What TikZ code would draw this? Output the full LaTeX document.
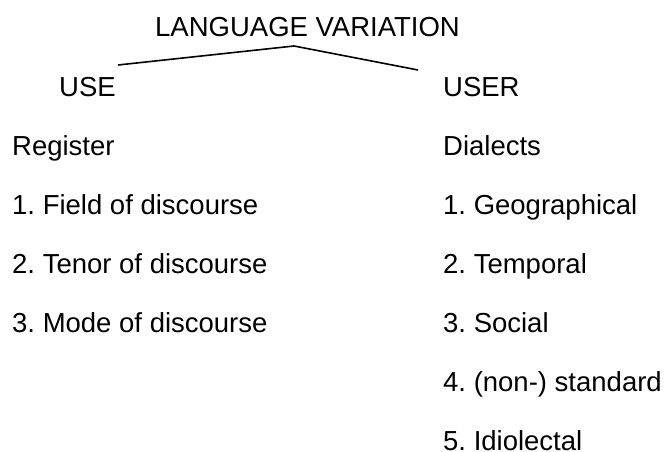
\documentclass[tikz,border=0pt]{standalone}
\usepackage{fontspec}
\setmainfont{Liberation Sans}
\frenchspacing
\begin{document}
\begin{tikzpicture}[x=1pt,y=1pt,
  lbl/.style={anchor=base west,inner sep=0pt,text=black,font=\fontsize{27.5}{33}\selectfont\frenchspacing},
  branch/.style={draw=black,line width=1.6pt,line join=miter}]
\useasboundingbox (0,0) rectangle (669,-452);
\node[lbl] (title) at (155,-37) {LANGUAGE VARIATION};
\node[lbl] (use) at (59,-96) {USE};
\node[lbl] (user) at (443,-96) {USER};
\node[lbl] (reg) at (12,-155) {Register};
\node[lbl] (l1) at (12,-214) {1. Field of discourse};
\node[lbl] (l2) at (12,-273) {2. Tenor of discourse};
\node[lbl] (l3) at (12,-332) {3. Mode of discourse};
\node[lbl] (dia) at (443,-155) {Dialects};
\node[lbl] (r1) at (443,-214) {1. Geographical};
\node[lbl] (r2) at (443,-273) {2. Temporal};
\node[lbl] (r3) at (443,-332) {3. Social};
\node[lbl] (r4) at (443,-391) {4. (non-) standard};
\node[lbl] (r5) at (443,-450) {5. Idiolectal};
\coordinate (useend) at (118,-65);
\coordinate (peak) at (294,-46);
\coordinate (userend) at (418,-70);
\draw[branch] (useend) -- (peak) -- (userend);
\end{tikzpicture}
\end{document}
